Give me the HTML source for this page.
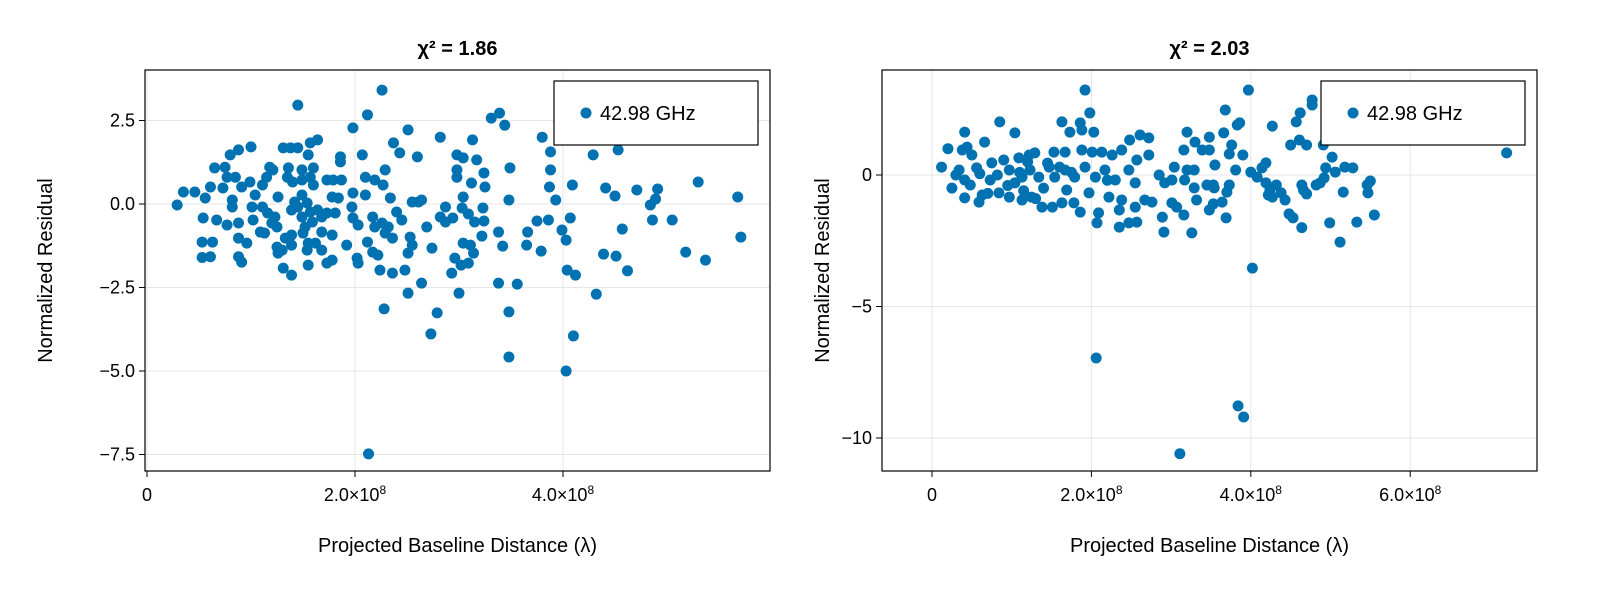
<!DOCTYPE html>
<html><head><meta charset="utf-8"><style>
body{margin:0;background:#fff}
svg{display:block;font-family:"Liberation Sans",sans-serif}
</style></head><body>
<svg id="chart" width="1600" height="600" viewBox="0 0 1600 600"></svg>
<script>
// Left panel data (x in units of 1e8 λ, y residual)
const leftX=[.29,.35,.46,.56,.54,.53,.63,.53,.61,.61,.65,.75,.77,.85,.73,.82,.82,.67,.77,.88,.88,.96,.88,.91,.8,.88,1.0,.91,.99,1.04,1.01,1.02,1.09,1.13,1.11,1.15,1.18,1.21,1.11,1.16,1.23,1.25,1.2,1.26,1.25,1.26,1.31,1.39,1.3,1.33,1.39,1.39,1.31,1.38,1.45,1.45,1.55,1.57,1.64,1.36,1.49,1.6,1.35,1.4,1.49,1.57,1.6,1.49,1.42,1.45,1.54,1.57,1.49,1.39,1.64,1.68,1.59,1.52,1.5,1.55,1.54,1.62,1.68,1.55,1.73,1.78,1.68,1.78,1.73,1.81,1.78,1.84,1.73,1.79,1.87,1.86,1.86,1.92,1.98,1.97,1.98,2.03,2.02,2.03,1.98,2.07,2.1,2.1,2.12,2.12,2.17,2.22,2.24,2.19,2.27,2.29,2.17,2.19,2.26,2.32,2.29,2.36,2.34,2.26,2.37,2.43,2.36,2.4,2.45,2.51,2.55,2.61,2.64,2.53,2.55,2.51,2.48,2.51,2.64,2.6,2.69,2.74,2.82,2.87,2.82,2.87,2.94,2.96,2.93,2.98,2.98,2.98,3.04,3.04,3.13,3.12,3.17,3.03,3.09,3.15,3.11,3.14,3.02,3.09,3.0,3.04,3.24,3.25,3.23,3.31,3.24,3.22,3.38,3.39,3.44,3.49,3.48,3.38,3.42,3.48,3.48,3.56,3.65,3.66,3.75,3.79,3.8,3.87,3.88,3.88,3.86,3.93,3.99,4.03,4.04,4.07,4.03,4.09,4.12,4.1,4.29,4.32,4.39,4.41,4.53,4.51,4.5,4.57,4.62,4.71,4.84,4.86,4.91,4.89,5.05,5.18,5.3,5.37,5.68,5.71,2.13,2.73,2.79,2.28];
const leftY=[-.03,.36,.36,.18,-.42,-1.14,-1.14,-1.6,-1.58,.51,1.08,1.1,.8,.8,.48,.12,-.09,-.48,-.63,-.57,-1.02,-1.17,-1.58,-1.74,1.47,1.62,1.71,.51,.66,.27,-.09,-.48,-.84,-.87,.57,.8,1.1,1.02,-.09,-.27,-.39,-.69,-.57,.21,-1.29,-1.47,-1.92,-2.13,-1.38,-1.02,-.93,-1.23,1.68,1.68,1.68,2.96,1.47,1.83,1.92,1.08,1.02,1.08,.8,.66,.72,.8,.57,.27,.06,-.09,.03,-.24,-.39,-.18,-.18,-.39,-.54,-.69,-.87,-1.17,-1.38,-1.17,-1.38,-1.83,-1.77,-1.68,-.84,-.93,-.27,-.27,.21,.18,.72,.72,.72,1.41,1.26,-1.23,.33,-.09,-.42,-.63,-1.62,-1.77,2.28,1.47,.27,.8,-1.14,2.67,-1.44,-1.53,-1.98,.72,.57,1.02,-.39,-.69,-.57,-.69,-.87,-1.02,.18,3.41,1.83,1.53,-2.07,-.24,-.48,2.22,.06,.06,.12,-.99,-1.23,-1.47,-1.98,-2.67,-2.37,1.41,-.69,-1.32,2.0,-.09,-.39,-.54,-.42,-1.62,-2.07,1.47,1.02,.8,.21,1.38,1.92,.63,1.32,-.12,-.3,-.54,-1.23,-1.47,-1.83,-1.77,-2.67,-1.17,.93,.51,-.12,2.57,-.51,-.96,-2.37,2.72,2.36,1.08,.12,-.84,-1.26,-3.23,-4.58,-2.4,-1.23,-.84,-.51,-1.41,2.0,.51,1.02,1.56,-.48,.12,-.78,-1.08,-1.98,-.42,-5.0,.57,-2.13,-3.95,1.47,-2.7,-1.5,.48,1.62,-1.56,.24,-.75,-2.0,.42,-.03,-.48,.45,.15,-.48,-1.44,.66,-1.68,.21,-.99,-7.48,-3.89,-3.26,-3.14];
// Right panel data
const rightX=[1.92,1.98,1.63,1.73,1.86,1.88,2.03,.85,1.04,.66,.41,.38,.44,.5,.34,.41,.48,.41,.59,.63,.56,.75,.9,1.09,1.22,1.29,1.53,1.67,1.88,2.01,2.13,2.26,2.38,2.48,2.61,2.72,2.57,2.72,.73,.82,.97,1.04,1.13,1.23,1.34,1.47,1.54,1.67,1.79,1.92,2.05,2.17,2.3,2.47,2.55,.84,.97,1.13,1.25,1.38,1.51,1.63,1.78,1.86,2.09,2.07,1.69,1.97,2.22,2.38,2.35,2.35,2.47,2.57,2.55,2.67,2.76,2.85,2.92,3.01,3.04,2.89,2.91,3.01,3.07,3.16,3.26,3.2,3.29,3.17,3.29,3.32,3.16,3.2,3.3,3.39,3.48,3.48,3.45,3.55,3.54,3.68,3.66,3.76,3.73,3.83,3.86,3.81,3.73,3.7,3.64,3.53,3.48,3.53,3.69,3.97,3.9,4.0,4.08,4.02,4.14,4.19,4.19,4.24,4.27,4.32,4.38,4.22,4.27,4.43,4.48,4.5,4.53,4.57,4.61,4.62,4.64,4.66,4.64,4.7,4.7,4.77,4.77,4.82,4.87,4.92,4.94,4.91,5.02,4.99,5.06,5.12,5.16,5.18,5.28,5.33,5.46,5.47,5.5,5.55,7.21,2.06,3.84,3.91,3.11,.12,.2,.25,.3,1.2,1.4,1.6,1.1,.95,1.15,1.45,1.75,2.2,1.3,.7,.6];
const rightY=[3.23,2.36,2.02,1.63,1.98,1.71,1.63,2.02,1.6,1.25,1.63,.95,1.06,.76,.19,-.19,-.38,-.87,-1.03,-.76,.27,.46,.57,.65,.76,.84,.87,.87,.95,.87,.87,.76,.95,1.33,1.52,1.41,.57,.76,-.19,0,.19,-.3,-.08,.19,-.08,.3,-.08,.19,-.08,.3,-.08,.19,-.19,.19,-.3,-.68,-.84,-.95,-.84,-1.22,-1.22,-1.06,-1.06,-1.41,-1.44,-1.82,-.57,-.68,-.84,-.95,-1.33,-1.98,-1.82,-1.79,-1.22,-.95,-1.03,0,-.3,-.19,.3,-1.6,-2.17,-1.06,-1.22,-1.52,-2.2,.19,.19,-.19,-.49,-.95,.95,1.63,1.25,.95,1.44,.95,-.38,.38,-.49,2.47,1.6,1.14,.8,1.9,1.98,.19,-.38,-.65,-1.03,-.38,-1.33,-1.1,-1.63,3.23,.76,.11,-.08,-3.54,.27,.46,-.3,-.57,1.86,-.38,-.68,-.76,-.84,-.95,-1.48,1.14,-1.63,2.02,1.33,2.36,-.38,-.57,-2.0,-.72,1.14,2.66,2.85,-.38,-.3,-.11,.27,1.14,.68,-1.82,.11,-2.55,-.65,.3,.27,-1.79,-.38,-.68,-.23,-1.52,.84,-6.96,-8.78,-9.2,-10.6,.3,1.0,-.5,.0,.5,-.5,.3,.1,-.4,-.6,.45,.1,-.2,-.9,-.7,.05];
const leftYTicks=[2.5,0,-2.5,-5,-7.5];
const leftYLabels=["2.5","0.0","−2.5","−5.0","−7.5"];
const leftXTicks=[0,2,4];
const rightYTicks=[0,-5,-10];
const rightYLabels=["0","−5","−10"];
const rightXTicks=[0,2,4,6];

const NS="http://www.w3.org/2000/svg";
const svg=document.getElementById('chart');
function mk(tag,attrs,parent,text){const e=document.createElementNS(NS,tag);for(const k in attrs)e.setAttribute(k,attrs[k]);if(text!==undefined)e.textContent=text;(parent||svg).appendChild(e);return e;}

function panel(o){
  const g=mk('g',{});
  
  
  const sx=v=>o.x0px+(v-0)*o.xs;
  const sy=v=>o.y0px-v*o.ys;
  // grid
  o.yt.forEach((t,i)=>{
    const l=mk('line',{x1:o.L,x2:o.R,y1:sy(t),y2:sy(t),stroke:'#e6e6e6','stroke-width':1},g);
    
    
    mk('line',{x1:o.L-6,x2:o.L,y1:sy(t),y2:sy(t),stroke:'#000','stroke-width':1},g);
    const tx=mk('text',{x:o.L-10,y:sy(t)+6,'text-anchor':'end','font-size':18},g,o.yl[i]);
    
    
  });
  o.xt.forEach(t=>{
    const l=mk('line',{x1:sx(t),x2:sx(t),y1:o.T,y2:o.B,stroke:'#e6e6e6','stroke-width':1},g);
    
    
    mk('line',{x1:sx(t),x2:sx(t),y1:o.B,y2:o.B+6,stroke:'#000','stroke-width':1},g);
    const tx=mk('text',{x:sx(t),y:o.B+30,'text-anchor':'middle','font-size':18},g);
    
    
    if(t===0){tx.textContent='0';}
    else{
      tx.appendChild(document.createTextNode(t.toFixed(1)+'×10'));
      const s=document.createElementNS(NS,'tspan');s.setAttribute('font-size','12');s.setAttribute('dy','-7');s.textContent='8';tx.appendChild(s);
    }
  });
  // points
  o.xs_.forEach((v,i)=>{
    const c=mk('circle',{cx:sx(v),cy:sy(o.ys_[i]),r:5.5,fill:'#0072b2'},g);
    
    
  });
  const fr=mk('rect',{x:o.L,y:o.T,width:o.R-o.L,height:o.B-o.T,fill:'none',stroke:'#000','stroke-width':1.2},g);
  
  
  // legend
  const lg=mk('g',{},g);
  
  
  mk('rect',{x:o.lgx,y:81,width:204,height:64,fill:'#fff',stroke:'#000','stroke-width':1.2},lg);
  mk('circle',{cx:o.lgx+32,cy:113,r:5.5,fill:'#0072b2'},lg);
  mk('text',{x:o.lgx+46,y:120,'font-size':20},lg,'42.98 GHz');
  // titles
  const cx=(o.L+o.R)/2;
  const tt=mk('text',{x:cx,y:55,'text-anchor':'middle','font-size':20,'font-weight':'bold'},g,o.title);
  
  
  const xt=mk('text',{x:cx,y:552,'text-anchor':'middle','font-size':20},g,'Projected Baseline Distance (λ)');
  
  
  const yy=(o.T+o.B)/2;
  const yt=mk('text',{x:o.ytx,y:yy,'text-anchor':'middle','font-size':20,transform:`rotate(-90 ${o.ytx} ${yy})`},g,'Normalized Residual');
  
  
}
panel({name:'left-panel',L:145,R:770,T:70,B:471,x0px:147,xs:104,y0px:204,ys:33.4,
  yt:leftYTicks,yl:leftYLabels,xt:leftXTicks,xs_:leftX,ys_:leftY,lgx:554,title:'χ² = 1.86',ytx:52});
panel({name:'right-panel',L:882,R:1537,T:70,B:471,x0px:932,xs:79.7,y0px:175,ys:26.3,
  yt:rightYTicks,yl:rightYLabels,xt:rightXTicks,xs_:rightX,ys_:rightY,lgx:1321,title:'χ² = 2.03',ytx:829});
</script>
</body></html>
